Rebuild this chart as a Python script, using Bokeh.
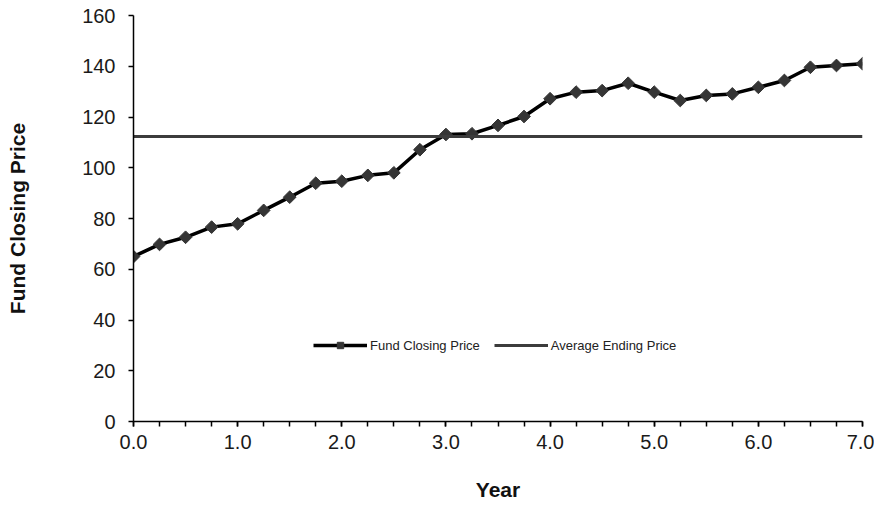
import math
from bokeh.plotting import figure
from bokeh.models import Range1d, FixedTicker, Legend, LegendItem, ColumnDataSource
from bokeh.embed import file_html
from bokeh.resources import INLINE

# ---- data ----
years = [0.0, 0.25, 0.5, 0.75, 1.0, 1.25, 1.5, 1.75, 2.0, 2.25, 2.5, 2.75,
         3.0, 3.25, 3.5, 3.75, 4.0, 4.25, 4.5, 4.75, 5.0, 5.25, 5.5, 5.75,
         6.0, 6.25, 6.5, 6.75, 7.0]
closing_price = [65.0, 69.8, 72.6, 76.6, 77.9, 83.2, 88.4, 93.9, 94.7, 97.0, 98.0, 107.1,
                 113.1, 113.4, 116.7, 120.2, 127.2, 129.8, 130.4, 133.3, 129.8, 126.5, 128.5, 129.1,
                 131.7, 134.4, 139.6, 140.3, 141.0]
average_ending_price = 112.3
x_major_ticks = [0, 1, 2, 3, 4, 5, 6, 7]
x_tick_labels = {t: f"{t:.1f}" for t in x_major_ticks}
x_minor_ticks = years
y_ticks = [0, 20, 40, 60, 80, 100, 120, 140, 160]

FONT = "Liberation Sans"

p = figure(width=874, height=506, output_backend="svg", toolbar_location=None,
           x_range=Range1d(0, 7), y_range=Range1d(0, 160),
           min_border_left=133, min_border_right=12, min_border_top=15, min_border_bottom=85)
p.outline_line_color = None
p.xgrid.visible = False
p.ygrid.visible = False
p.background_fill_color = "white"
p.border_fill_color = "white"

src = ColumnDataSource(dict(x=years, y=closing_price))
r_fund = p.line("x", "y", source=src, line_color="black", line_width=3.5)
r_mark = p.scatter("x", "y", source=src, marker="square", size=9, angle=math.pi / 4,
                   fill_color="#353535", line_color="#353535", line_width=1)
r_avg = p.line([years[0], years[-1]], [average_ending_price, average_ending_price],
               line_color="#3c3c3c", line_width=3)

# axes
xa = p.xaxis[0]
xa.ticker = FixedTicker(ticks=x_major_ticks, minor_ticks=x_minor_ticks)
xa.major_label_overrides = x_tick_labels
xa.axis_label = "Year"
ya = p.yaxis[0]
ya.ticker = FixedTicker(ticks=y_ticks, minor_ticks=[])
ya.axis_label = "Fund Closing Price"

for ax in (xa, ya):
    ax.axis_line_color = "black"
    ax.axis_line_width = 1.5
    ax.major_tick_line_color = "black"
    ax.major_tick_line_width = 1.5
    ax.major_tick_out = 5
    ax.major_tick_in = 0
    ax.minor_tick_line_color = "black"
    ax.minor_tick_line_width = 1.5
    ax.minor_tick_out = 5
    ax.minor_tick_in = 0
    ax.major_label_text_font = FONT
    ax.major_label_text_font_size = "20px"
    ax.major_label_text_color = "#1a1a1a"
    ax.axis_label_text_font = FONT
    ax.axis_label_text_font_style = "bold"
    ax.axis_label_text_font_size = "21px"
    ax.axis_label_text_color = "#111111"

xa.major_label_standoff = 8
xa.axis_label_standoff = 26
ya.major_label_standoff = 13
ya.axis_label_standoff = 50

legend = Legend(items=[
    LegendItem(label="Fund Closing Price", renderers=[r_fund, r_mark]),
    LegendItem(label="Average Ending Price", renderers=[r_avg]),
], orientation="horizontal", location=(180, 68))
legend.border_line_color = None
legend.background_fill_alpha = 0
legend.label_text_font = FONT
legend.label_text_font_size = "13px"
legend.label_text_color = "#222222"
legend.glyph_width = 54
legend.glyph_height = 16
legend.label_standoff = 3
legend.spacing = 14
legend.padding = 0
legend.margin = 0
legend.label_height = 16
p.add_layout(legend)

open("out.html", "w").write(file_html(p, INLINE))
